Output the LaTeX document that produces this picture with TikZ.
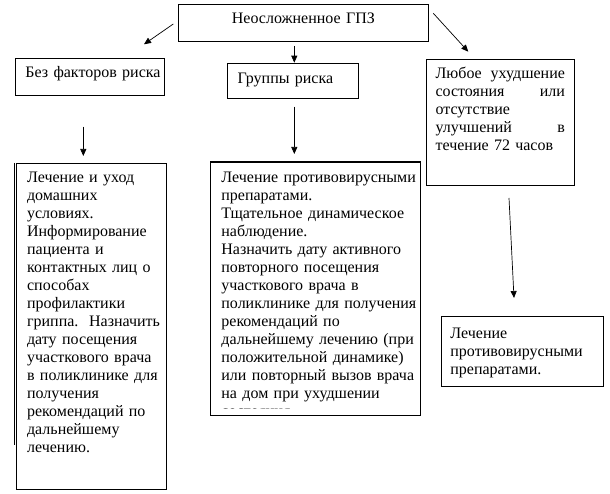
\documentclass[tikz,border=0pt]{standalone}
\usepackage{fontspec}
\setmainfont{Liberation Serif}
\usetikzlibrary{arrows.meta}

\begin{document}
\begin{tikzpicture}[x=1pt,y=-1pt,
  box/.style={draw,line width=.8pt,inner ysep=0pt,inner xsep=10pt,anchor=base west,
    align=left,font=\fontsize{16}{18}\selectfont},
  arr/.style={line width=.7pt,-{Triangle[length=7pt,width=6pt]}}]
\useasboundingbox (0,0) rectangle (610,494);
\node[box,align=center,text width=229.4,text height=20,text depth=17.5] (gpz) at (178.3,24)
  {Неосложненное~ГПЗ};
\node[box,text width=129.3,text height=19.7,text depth=17] (norisk) at (15,78)
  {Без~факторов~риска};
\node[box,text width=110.4,text height=20.2,text depth=14.8] (risk) at (227.3,83.5)
  {Группы~риска};
\node[box,inner xsep=9.5pt,text width=129.3,text height=19.3,text depth=106.7] (worse) at (425.7,78.3)
  {Любое\hfill ухудшение\\
   состояния\hfill или\\
   отсутствие\\
   улучшений\hfill в\\
   течение~72~часов};
\node[box,inner xsep=11pt,text width=128,text height=19.7,text depth=306] (home) at (15.7,183)
  {Лечение~и~уход\\
   домашних\\
   условиях.\\
   Информирование\\
   пациента~и\\
   контактных~лиц~о\\
   способах\\
   профилактики\\
   гриппа.~~Назначить\\
   дату~посещения\\
   участкового~врача\\
   в~поликлинике~для\\
   получения\\
   рекомендаций~по\\
   дальнейшему\\
   лечению.};
\draw[line width=.8pt] (home.north west) ++(-1,0) -- ++(0,282);
\begin{scope}
\clip (200,150) rectangle (430,408.5);
\node[box,inner xsep=11pt,text width=187.5,text height=21,text depth=232] (drugs) at (210,183)
  {Лечение~противовирусными\\
   препаратами.\\
   Тщательное~динамическое\\
   наблюдение.\\
   Назначить~дату~активного\\
   повторного~посещения\\
   участкового~врача~в\\
   поликлинике~для~получения\\
   рекомендаций~по\\
   дальнейшему~лечению~(при\\
   положительной~динамике)\\
   или~повторный~вызов~врача\\
   на~дом~при~ухудшении\\
   состояния};
\end{scope}
\draw[line width=.8pt] (drugs.north west) rectangle (drugs.south east);
\node[box,inner xsep=9.3pt,text width=143.7,text height=21.3,text depth=48.7] (drugs2) at (440.7,338)
  {Лечение\\
   противовирусными\\
   препаратами.};
\coordinate (a1s) at (173.3,24);  \coordinate (a1e) at (144,44.3);
\coordinate (a2s) at (294.3,46);  \coordinate (a2e) at (294.3,62.7);
\coordinate (a3s) at (433.3,13.3);\coordinate (a3e) at (468.3,51.7);
\coordinate (a4s) at (83.3,126.7);\coordinate (a4e) at (83.3,156);
\coordinate (a5s) at (294.3,106.7);\coordinate (a5e) at (294.3,154);
\coordinate (a6s) at (509,198);   \coordinate (a6e) at (514,298);
\draw[arr] (a1s) -- (a1e);
\draw[arr] (a2s) -- (a2e);
\draw[arr] (a3s) -- (a3e);
\draw[arr] (a4s) -- (a4e);
\draw[arr] (a5s) -- (a5e);
\draw[arr] (a6s) -- (a6e);
\end{tikzpicture}
\end{document}
